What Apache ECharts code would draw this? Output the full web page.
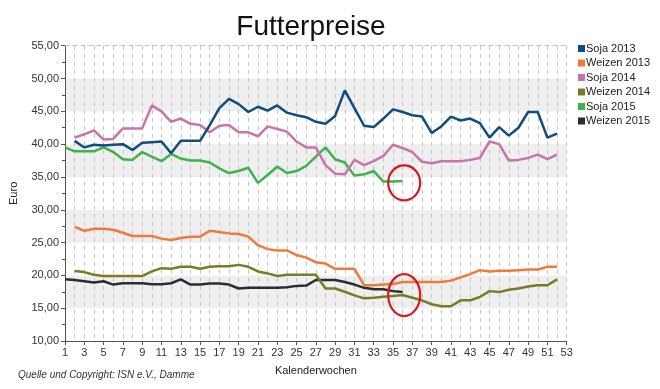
<!DOCTYPE html>
<html>
<head>
<meta charset="utf-8">
<script src="https://cdn.jsdelivr.net/npm/echarts@6/dist/echarts.min.js"></script>
<style>
html,body{margin:0;padding:0;background:#fff;}
#c{width:660px;height:389px;}
</style>
</head>
<body>
<div id="c"></div>
<script>
var weeks = [];
for (var w = 1; w <= 53; w++) weeks.push(String(w));

var seriesNames = ['Soja 2013', 'Weizen 2013', 'Soja 2014', 'Weizen 2014', 'Soja 2015', 'Weizen 2015'];
var seriesColors = ['#0f4c81', '#f07a3a', '#c874aa', '#7a7b27', '#3bb54a', '#2a2b33'];

var soja2013 = [null, 40.5, 39.5, 39.9, 39.8, 39.9, 40.0, 39.1, 40.2, 40.3, 40.4,
  38.6, 40.5, 40.5, 40.5, 42.9, 45.5, 46.9, 46.1, 44.9, 45.7,
  45.1, 45.9, 44.8, 44.4, 44.1, 43.4, 43.1, 44.3, 48.2, 45.5,
  42.8, 42.6, 43.9, 45.3, 44.9, 44.4, 44.2, 41.7, 42.7, 44.2,
  43.6, 43.9, 43.2, 41.0, 42.6, 41.3, 42.5, 44.9, 44.9, 41.0, 41.6, null];

var weizen2013 = [null, 27.4, 26.8, 27.1, 27.1, 26.95, 26.5, 26.0, 26.0, 26.0, 25.6,
  25.4, 25.7, 25.9, 25.9, 26.8, 26.6, 26.4, 26.3, 25.9, 24.6,
  24.0, 23.8, 23.8, 23.1, 22.7, 22.0, 21.8, 21.0, 21.0, 21.0,
  18.5, 18.5, 18.6, 18.7, 19.0, 19.0, 19.0, 19.0, 19.0, 19.2,
  19.7, 20.2, 20.8, 20.6, 20.7, 20.7, 20.8, 20.9, 20.9, 21.3, 21.3, null];

var soja2014 = [null, 41.0, 41.5, 42.1, 40.7, 40.8, 42.4, 42.4, 42.4, 45.9, 45.0,
  43.4, 43.9, 43.1, 42.9, 41.8, 42.8, 42.9, 41.8, 41.8, 41.2,
  42.7, 42.3, 41.9, 40.4, 39.5, 39.5, 36.8, 35.5, 35.4, 37.6,
  36.8, 37.4, 38.2, 39.9, 39.4, 38.8, 37.3, 37.1, 37.4, 37.4,
  37.4, 37.6, 37.9, 40.4, 40.0, 37.5, 37.6, 37.9, 38.4, 37.7, 38.4, null];

var weizen2014 = [null, 20.65, 20.5, 20.1, 19.9, 19.9, 19.9, 19.9, 19.9, 20.6, 21.1,
  21.0, 21.3, 21.3, 21.0, 21.3, 21.4, 21.4, 21.6, 21.3, 20.6,
  20.3, 19.9, 20.1, 20.1, 20.1, 20.1, 18.0, 18.0, 17.5, 16.95,
  16.5, 16.6, 16.75, 16.85, 17.0, 16.6, 16.2, 15.6, 15.3, 15.3,
  16.2, 16.2, 16.7, 17.6, 17.45, 17.8, 18.0, 18.3, 18.5, 18.5, 19.4, null];

var soja2015 = [39.5, 38.9, 38.9, 38.9, 39.5, 38.8, 37.7, 37.6, 38.8, 38.1,
  37.4, 38.5, 37.8, 37.5, 37.5, 37.2, 36.3, 35.6, 35.9, 36.4,
  34.1, 35.3, 36.6, 35.6, 35.9, 36.7, 38.1, 39.5, 37.7, 37.2,
  35.2, 35.4, 35.9, 34.3, 34.3, 34.4];

var weizen2015 = [19.4, 19.3, 19.1, 18.9, 19.1, 18.6, 18.8, 18.8, 18.8, 18.65,
  18.65, 18.8, 19.4, 18.6, 18.6, 18.75, 18.75, 18.6, 18.0, 18.1,
  18.1, 18.1, 18.1, 18.2, 18.4, 18.45, 19.3, 19.3, 19.3, 19.0,
  18.6, 18.1, 17.9, 17.9, 17.6, 17.45];

// annotation ellipse centres (week, value)
var marks = [['36', 34.1], ['36', 17.0]];

var allData = [soja2013, weizen2013, soja2014, weizen2014, soja2015, weizen2015];

var FONT = '"Liberation Sans", Arial, sans-serif';
var chart = echarts.init(document.getElementById('c'), null, {renderer: 'canvas'});

var series = seriesNames.map(function (n, i) {
  return {
    name: n, type: 'line', data: allData[i], showSymbol: false, symbol: 'none',
    connectNulls: false, lineStyle: {width: 2.5, color: seriesColors[i]},
    itemStyle: {color: seriesColors[i]}, z: 10 - i
  };
});

chart.setOption({
  animation: false,
  backgroundColor: '#ffffff',
  textStyle: {fontFamily: FONT},
  title: {
    text: 'Futterpreise', left: 306, top: 8, textAlign: 'center',
    textStyle: {fontFamily: FONT, fontSize: 28, fontWeight: 'normal', color: '#111'}
  },
  legend: {
    orient: 'vertical', left: 573, top: 38, icon: 'rect',
    itemWidth: 7, itemHeight: 7, itemGap: 3.5,
    textStyle: {fontFamily: FONT, fontSize: 11, color: '#222', lineHeight: 11, padding: [0, 0, 0, -4]},
    data: seriesNames
  },
  grid: {left: 63.3, right: 93.3, top: 45.7, bottom: 48, containLabel: false},
  xAxis: [{
    type: 'category', data: weeks, boundaryGap: false,
    name: 'Kalenderwochen', nameLocation: 'middle', nameGap: 24,
    nameTextStyle: {fontFamily: FONT, fontSize: 11, color: '#222'},
    axisLine: {lineStyle: {color: '#555', width: 1}, onZero: false},
    axisTick: {show: true, interval: 1, length: 4, lineStyle: {color: '#555'}},
    axisLabel: {interval: 1, fontFamily: FONT, fontSize: 11, color: '#333', margin: 6},
    splitLine: {show: true, interval: 0, lineStyle: {color: '#c4c4c4', type: [4, 4], width: 1}}
  }, {
    type: 'category', data: weeks, boundaryGap: false, position: 'top',
    axisLine: {show: true, lineStyle: {color: '#c4c4c4', type: [4, 4]}},
    axisTick: {show: false}, axisLabel: {show: false}, splitLine: {show: false}
  }],
  yAxis: {
    type: 'value', min: 10, max: 55, interval: 5,
    name: 'Euro', nameLocation: 'middle', nameGap: 46, nameRotate: 90,
    nameTextStyle: {fontFamily: FONT, fontSize: 11, color: '#222'},
    axisLine: {show: true, lineStyle: {color: '#555', width: 1}},
    axisTick: {show: true, length: 4, lineStyle: {color: '#555'}},
    minorTick: {show: true, splitNumber: 2, length: 3, lineStyle: {color: '#555'}},
    axisLabel: {
      fontFamily: FONT, fontSize: 11, color: '#333', margin: 6,
      formatter: function (v) { return v.toFixed(2).replace('.', ','); }
    },
    splitLine: {show: false},
    splitArea: {show: true, areaStyle: {color: ['rgba(255,255,255,0)', '#efefef']}}
  },
  series: series,
  graphic: [{
    type: 'text', left: 18, top: 370,
    style: {text: 'Quelle und Copyright: ISN e.V., Damme', font: 'italic 10px ' + FONT, fill: '#333'}
  }]
});

var ells = marks.map(function (m, i) {
  var p = chart.convertToPixel({gridIndex: 0}, m);
  return {
    type: 'ellipse', id: 'e' + i, z: 100,
    shape: {cx: p[0] + 1.5, cy: p[1], rx: 16, ry: i === 0 ? 17.5 : 21},
    style: {fill: 'none', stroke: '#d9191c', lineWidth: 2.2}
  };
});
chart.setOption({graphic: ells});
</script>
</body>
</html>
